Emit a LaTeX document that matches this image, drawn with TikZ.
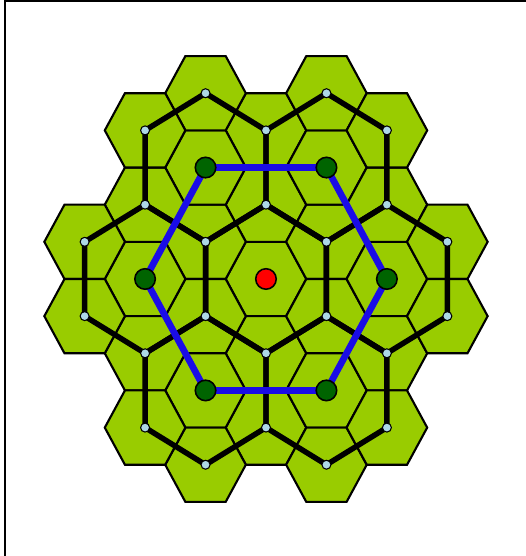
\documentclass[tikz,border=0pt]{standalone}
\usepackage{tikz}
\usepackage{xcolor}

\definecolor{cellgreen}{RGB}{153,204,0}
\definecolor{reuseblue}{RGB}{26,12,230}
\definecolor{cochangreen}{RGB}{0,100,0}
\definecolor{cornerblue}{RGB}{173,216,230}

\pgfdeclarelayer{cells}
\pgfdeclarelayer{links}
\pgfsetlayers{cells,links,main}

\tikzset{
  cell/.style={fill=cellgreen, draw=black, line width=1.2pt},
  border/.style={draw=black, line width=3.1pt, line join=round},
  reuse/.style={draw=reuseblue, line width=3.8pt, line join=round},
  corner/.style={circle, fill=cornerblue, draw=black, line width=0.6pt, inner sep=0pt, minimum size=0.18cm},
  cochannel/.style={circle, fill=cochangreen, draw=black, line width=0.9pt, inner sep=0pt, minimum size=0.41cm},
  serving/.style={circle, fill=red, draw=black, line width=0.9pt, inner sep=0pt, minimum size=0.41cm}
}

\begin{document}
\begin{tikzpicture}[x=0.806cm,y=0.858cm]
\useasboundingbox (-6.600,-6.457) rectangle (6.449,6.503);
\draw[line width=1.15pt] (-6.476,-6.457) -- (-6.476,6.48) -- (6.449,6.48);

% cells of the N=3 pattern
\begin{pgfonlayer}{cells}
\foreach \cx/\cy in {0/0, 0/1.732, 0/-1.732, 0/3.464, 0/-3.464,
    -1.5/0.866, -1.5/-0.866, -1.5/2.598, -1.5/-2.598, -1.5/4.330, -1.5/-4.330,
    1.5/0.866, 1.5/-0.866, 1.5/2.598, 1.5/-2.598, 1.5/4.330, 1.5/-4.330,
    -3/0, -3/1.732, -3/-1.732, -3/3.464, -3/-3.464,
    3/0, 3/1.732, 3/-1.732, 3/3.464, 3/-3.464,
    -4.5/0.866, -4.5/-0.866, 4.5/0.866, 4.5/-0.866}
  \draw[cell, shift={(\cx,\cy)}] (1,0) -- (0.5,0.866) -- (-0.5,0.866) -- (-1,0) -- (-0.5,-0.866) -- (0.5,-0.866) -- cycle;
\end{pgfonlayer}

% serving cell and co-channel cells
\node[serving] (bs) at (0,0) {};
\node[cochannel] (cc1) at (-1.5,2.598) {};
\node[cochannel] (cc2) at (1.5,2.598) {};
\node[cochannel] (cc3) at (3,0) {};
\node[cochannel] (cc4) at (1.5,-2.598) {};
\node[cochannel] (cc5) at (-1.5,-2.598) {};
\node[cochannel] (cc6) at (-3,0) {};

% cluster corners
\node[corner] (a1) at (-1.5,4.330) {};
\node[corner] (a2) at (1.5,4.330) {};
\node[corner] (b1) at (-3,3.464) {};
\node[corner] (b2) at (0,3.464) {};
\node[corner] (b3) at (3,3.464) {};
\node[corner] (c1) at (-3,1.732) {};
\node[corner] (c2) at (0,1.732) {};
\node[corner] (c3) at (3,1.732) {};
\node[corner] (d1) at (-4.5,0.866) {};
\node[corner] (d2) at (-1.5,0.866) {};
\node[corner] (d3) at (1.5,0.866) {};
\node[corner] (d4) at (4.5,0.866) {};
\node[corner] (e1) at (-4.5,-0.866) {};
\node[corner] (e2) at (-1.5,-0.866) {};
\node[corner] (e3) at (1.5,-0.866) {};
\node[corner] (e4) at (4.5,-0.866) {};
\node[corner] (f1) at (-3,-1.732) {};
\node[corner] (f2) at (0,-1.732) {};
\node[corner] (f3) at (3,-1.732) {};
\node[corner] (g1) at (-3,-3.464) {};
\node[corner] (g2) at (0,-3.464) {};
\node[corner] (g3) at (3,-3.464) {};
\node[corner] (h1) at (-1.5,-4.330) {};
\node[corner] (h2) at (1.5,-4.330) {};

\begin{pgfonlayer}{links}
% cluster borders
\draw[border] (c2.center) -- (d3.center) -- (e3.center) -- (f2.center) -- (e2.center) -- (d2.center) -- cycle;
\draw[border] (a1.center) -- (b2.center) -- (c2.center) -- (d2.center) -- (c1.center) -- (b1.center) -- cycle;
\draw[border] (a2.center) -- (b3.center) -- (c3.center) -- (d3.center) -- (c2.center) -- (b2.center) -- cycle;
\draw[border] (c3.center) -- (d4.center) -- (e4.center) -- (f3.center) -- (e3.center) -- (d3.center) -- cycle;
\draw[border] (e3.center) -- (f3.center) -- (g3.center) -- (h2.center) -- (g2.center) -- (f2.center) -- cycle;
\draw[border] (e2.center) -- (f2.center) -- (g2.center) -- (h1.center) -- (g1.center) -- (f1.center) -- cycle;
\draw[border] (c1.center) -- (d2.center) -- (e2.center) -- (f1.center) -- (e1.center) -- (d1.center) -- cycle;
% reuse distance
\draw[reuse] (cc1.center) -- (cc2.center) -- (cc3.center) -- (cc4.center) -- (cc5.center) -- (cc6.center) -- cycle;
\end{pgfonlayer}
\end{tikzpicture}
\end{document}
